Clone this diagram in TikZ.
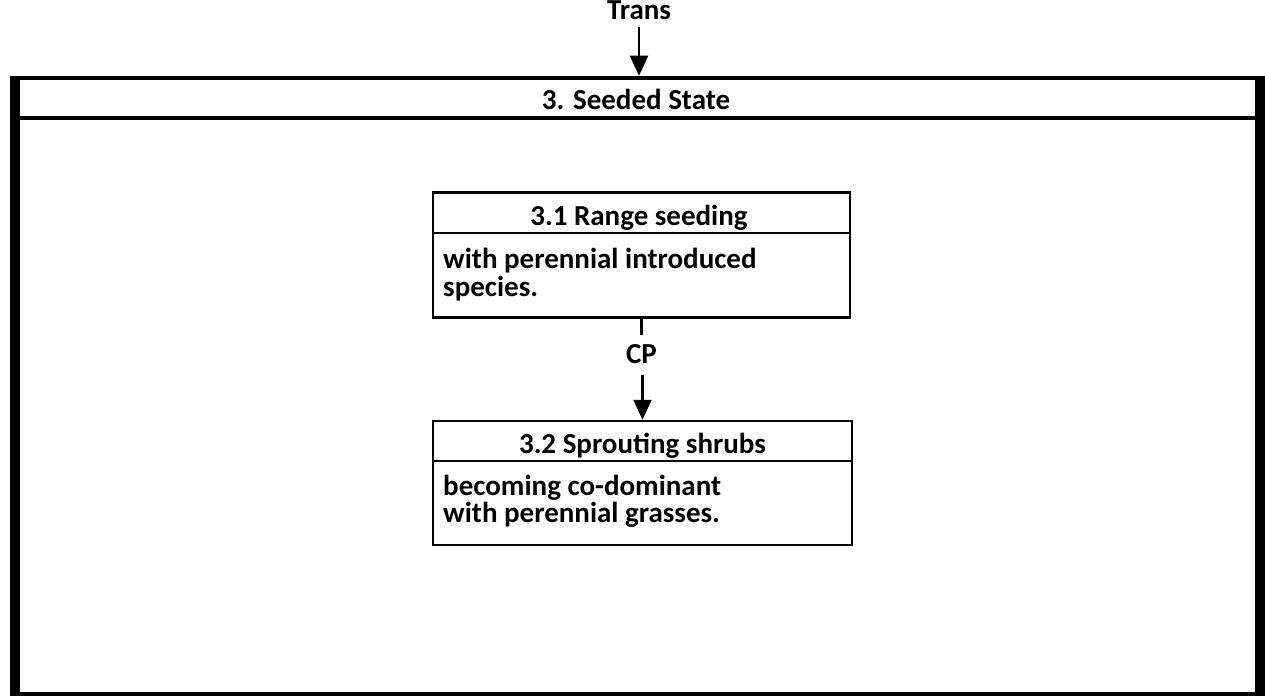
\documentclass[tikz,border=0pt]{standalone}
\usepackage{fontspec}
\setmainfont{Carlito}
\usetikzlibrary{arrows.meta}
\begin{document}
\begin{tikzpicture}[x=1pt,y=-1pt,
  lbl/.style={font=\fontsize{29}{29}\selectfont\bfseries, inner sep=0pt, anchor=base},
  bodyl/.style={lbl, anchor=base west, text height=18pt, text depth=4pt},
  boxn/.style={draw, line width=2.5pt, minimum width=417pt, minimum height=125pt, inner sep=0pt},
  conn/.style={line width=2.2pt},
  arr/.style={line width=2.2pt, -{Triangle[width=18pt,length=20pt]}}]
\useasboundingbox (0,0) rectangle (1265,698);
\clip (0,0) rectangle (1265,698);
% outer state box
\node[draw, line width=4.5pt, minimum width=1240pt, minimum height=616pt, inner sep=0pt] (seeded) at (637.5,386) {};
\draw[line width=10pt] (seeded.north west) -- (seeded.south west);
\draw[line width=10pt] (seeded.north east) -- (seeded.south east);
\draw[line width=3.5pt] (seeded.west |- 0,118) -- (seeded.east |- 0,118);
\node[lbl] (title) at (636,110) {3. Seeded State};
% incoming transition
\node[lbl] (trans) at (639,20) {Trans};
\coordinate (tstart) at (639,27);
\draw[arr] (tstart) -- (tstart |- seeded.north);
% box 3.1
\node[boxn] (b1) at (641.5,255) {};
\draw[line width=2.5pt] (b1.west |- 0,233) -- (b1.east |- 0,233);
\node[lbl] (h1) at (639,225) {3.1 Range seeding};
\node[bodyl] (t1a) at (443,268) {with perennial introduced};
\node[bodyl] (t1b) at (443,296) {species.};
% box 3.2
\node[boxn, minimum width=419pt, minimum height=124pt] (b2) at (642.5,483) {};
\draw[line width=2.5pt] (b2.west |- 0,461) -- (b2.east |- 0,461);
\node[lbl] (h2) at (642.5,453) {3.2 Sprouting shrubs};
\node[bodyl] (t2a) at (443,495) {becoming co-dominant};
\node[bodyl] (t2b) at (443,522) {with perennial grasses.};
% CP connector
\node[lbl] (cp) at (641.5,363) {CP};
\coordinate (cpin) at (641.5,335);
\coordinate (cpout) at (642.5,375);
\draw[conn] (b1.south) -- (cpin);
\draw[arr] (cpout) -- (cpout |- b2.north);
\end{tikzpicture}
\end{document}
